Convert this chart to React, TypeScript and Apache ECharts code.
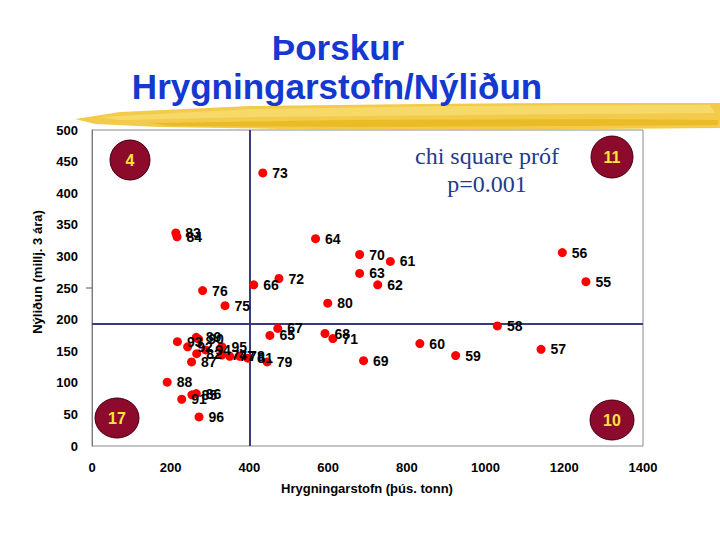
import React, { useEffect, useRef } from "react";
import * as echarts from "echarts";

const years = [55, 56, 57, 58, 59, 60, 61, 62, 63, 64, 65, 66, 67, 68, 69, 70, 71, 72, 73, 74, 75, 76, 77, 78, 79, 80, 81, 82, 83, 84, 85, 86, 87, 88, 89, 90, 91, 92, 93, 94, 95, 96];
const spawningStock = [1255, 1195, 1141, 1030, 924, 833, 758, 726, 680, 568, 452, 411, 472, 592, 690, 680, 612, 475, 434, 330, 338, 281, 350, 375, 445, 599, 396, 266, 213, 216, 254, 265, 253, 191, 265, 271, 228, 243, 217, 289, 330, 272];
const recruitment = [260, 306, 153, 190, 143, 162, 292, 255, 273, 328, 175, 255, 186, 178, 135, 303, 170, 265, 432, 144, 222, 246, 142, 142, 133, 226, 139, 146, 337, 331, 81, 83, 133, 101, 172, 169, 74, 157, 165, 152, 157, 46];

const xTicks = [0, 200, 400, 600, 800, 1000, 1200, 1400];
const yTicks = [0, 50, 100, 150, 200, 250, 300, 350, 400, 450, 500];
const medianStock = 400;
const medianRecruitment = 193;

const quadrantCounts = ["4", "11", "17", "10"];
const titleLines = ["Þorskur", "Hrygningarstofn/Nýliðun"];
const noteLines = ["chi square próf", "p=0.001"];

export default function App() {
  const ref = useRef<HTMLDivElement>(null);
  useEffect(() => {
    if (!ref.current) return;
    const chart = echarts.init(ref.current, null, { renderer: "svg" });
    const data = years.map((y, i) => ({ name: String(y), value: [spawningStock[i], recruitment[i]] }));
    const circ = (cx: number, cy: number, rx: number, ry: number, t: string) => [
      {
        type: "ellipse",
        shape: { cx, cy, rx, ry },
        style: { fill: "#8c0a2c", stroke: "#4a0010", lineWidth: 1 },
        z: 10,
      },
      {
        type: "text",
        x: cx,
        y: cy,
        style: {
          text: t,
          fill: "#ffe43a",
          font: "bold 16px 'Liberation Sans'",
          align: "center",
          verticalAlign: "middle",
        },
        z: 11,
      },
    ];
    const option: any = {
      animation: false,
      backgroundColor: "#ffffff",
      grid: {
        left: 92,
        right: 77,
        top: 130,
        bottom: 94,
        show: true,
        borderColor: "#8a8a8a",
        borderWidth: 1,
        backgroundColor: "transparent",
      },
      xAxis: {
        type: "value",
        min: xTicks[0],
        max: xTicks[xTicks.length - 1],
        interval: 200,
        axisLine: { show: false },
        axisTick: { show: false },
        splitLine: { show: false },
        axisLabel: {
          color: "#000",
          fontWeight: "bold",
          fontSize: 13,
          fontFamily: "Liberation Sans",
          margin: 15,
          formatter: (v: number) => String(v),
        },
      },
      yAxis: {
        type: "value",
        min: yTicks[0],
        max: yTicks[yTicks.length - 1],
        interval: 50,
        axisLine: { show: true, lineStyle: { color: "#7a7a7a", width: 1 } },
        axisTick: { show: false },
        splitLine: { show: false },
        axisLabel: {
          color: "#000",
          fontWeight: "bold",
          fontSize: 13,
          fontFamily: "Liberation Sans",
          margin: 14,
          formatter: (v: number) => String(v),
        },
      },
      series: [
        {
          type: "scatter",
          data,
          symbolSize: 9,
          itemStyle: { color: "#ff0000", opacity: 1 },
          label: {
            show: true,
            position: "right",
            distance: 5,
            formatter: (p: any) => p.name,
            color: "#000",
            fontWeight: "bold",
            fontSize: 14,
            fontFamily: "Liberation Sans",
          },
          markLine: {
            silent: true,
            symbol: ["none", "none"],
            label: { show: false },
            lineStyle: { color: "#3a3a7e", width: 2, type: "solid" },
            data: [{ xAxis: medianStock }, { yAxis: medianRecruitment }],
          },
          z: 5,
        },
      ],
      graphic: [
        // brush stroke under the title
        {
          type: "polygon",
          shape: {
            points: [[75, 119], [120, 112], [250, 106], [420, 104], [560, 103], [720, 103], [720, 128], [600, 129], [430, 130], [280, 129], [160, 127], [95, 124]],
          },
          style: { fill: "#f0c22a", opacity: 0.85 },
          z: 1,
        },
        {
          type: "polygon",
          shape: {
            points: [[100, 117], [250, 109], [450, 106], [710, 105], [715, 113], [480, 115], [260, 117], [120, 120]],
          },
          style: { fill: "#f8dc70", opacity: 0.8 },
          z: 2,
        },
        {
          type: "polygon",
          shape: {
            points: [[150, 123], [350, 120], [600, 119], [718, 120], [718, 125], [580, 126], [360, 127], [170, 126]],
          },
          style: { fill: "#e8b418", opacity: 0.7 },
          z: 2,
        },
        {
          type: "text",
          x: 338,
          y: 47,
          style: {
            text: titleLines[0],
            fill: "#1538d0",
            font: "bold 35px 'Liberation Sans'",
            align: "center",
            verticalAlign: "middle",
          },
          z: 3,
        },
        {
          type: "text",
          x: 337,
          y: 86,
          style: {
            text: titleLines[1],
            fill: "#1538d0",
            font: "bold 35px 'Liberation Sans'",
            align: "center",
            verticalAlign: "middle",
          },
          z: 3,
        },
        {
          type: "text",
          x: 487,
          y: 156,
          style: {
            text: noteLines[0],
            fill: "#1f3a8f",
            font: "24px 'Liberation Serif'",
            align: "center",
            verticalAlign: "middle",
          },
          z: 3,
        },
        {
          type: "text",
          x: 487,
          y: 184,
          style: {
            text: noteLines[1],
            fill: "#1f3a8f",
            font: "24px 'Liberation Serif'",
            align: "center",
            verticalAlign: "middle",
          },
          z: 3,
        },
        {
          type: "text",
          x: 37,
          y: 272,
          rotation: Math.PI / 2,
          style: {
            text: "Nýliðun (millj. 3 ára)",
            fill: "#000",
            font: "bold 13px 'Liberation Sans'",
            align: "center",
            verticalAlign: "middle",
          },
          z: 3,
        },
        {
          type: "text",
          x: 367,
          y: 488,
          style: {
            text: "Hrygningarstofn (þús. tonn)",
            fill: "#000",
            font: "bold 13px 'Liberation Sans'",
            align: "center",
            verticalAlign: "middle",
          },
          z: 3,
        },
        {
          type: "line",
          shape: { x1: 86, y1: 288, x2: 92, y2: 288 },
          style: { stroke: "#555", lineWidth: 1 },
          z: 3,
        },
        ...circ(130, 160, 20, 20, quadrantCounts[0]),
        ...circ(612, 157, 21, 21, quadrantCounts[1]),
        ...circ(117, 418, 22, 20, quadrantCounts[2]),
        ...circ(612, 420, 22, 20, quadrantCounts[3]),
      ],
    };
    chart.setOption(option);
    return () => chart.dispose();
  }, []);
  return <div ref={ref} style={{ position: "fixed", left: 0, top: 0, width: 720, height: 540 }} />;
}
